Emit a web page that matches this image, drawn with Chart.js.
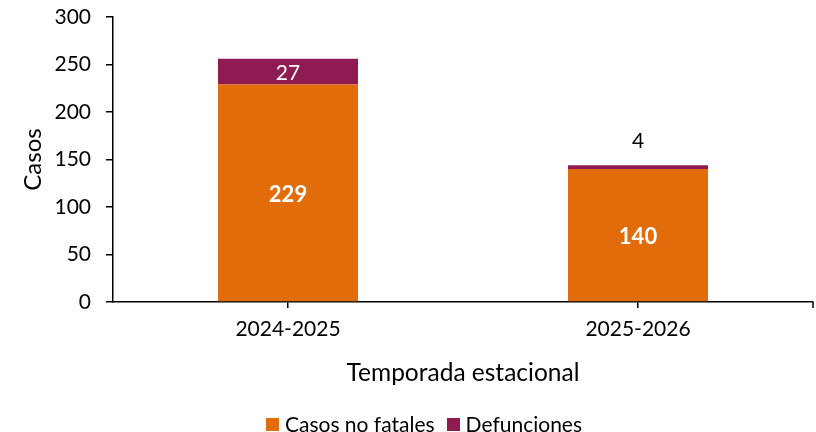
<!DOCTYPE html>
<html>
<head>
<meta charset="utf-8">
<script src="https://cdn.jsdelivr.net/npm/chart.js@4/dist/chart.umd.min.js"></script>
<style>
  html, body { margin: 0; padding: 0; background: #fff; }
  #wrap { position: relative; width: 816px; height: 432px; }
  #legend { position: absolute; left: 0; width: 848px; top: 412px; display: flex; justify-content: center; align-items: center;
            font-family: Lato, sans-serif; font-size: 21px; color: #000; line-height: 24px; }
  .item { display: flex; align-items: center; margin: 0 6px; }
  .box { width: 13px; height: 13px; margin-right: 6px; }
</style>
</head>
<body>
<div id="wrap">
  <canvas id="c" width="816" height="432"></canvas>
  <div id="legend"></div>
</div>
<script>
const categories = ['2024-2025', '2025-2026'];
const casosNoFatales = [229, 140];
const defunciones = [27, 4];
const seriesNames = ['Casos no fatales', 'Defunciones'];
const seriesColors = ['#E36C0A', '#8E1B52'];
const yTicks = [0, 50, 100, 150, 200, 250, 300];

const FONT = 'Lato, sans-serif';

const labelPlugin = {
  id: 'valueLabels',
  afterDatasetsDraw(chart) {
    const ctx = chart.ctx;
    ctx.save();
    ctx.textAlign = 'center';
    ctx.textBaseline = 'middle';
    chart.data.datasets.forEach((ds, di) => {
      const meta = chart.getDatasetMeta(di);
      meta.data.forEach((el, i) => {
        const v = ds.data[i];
        const h = Math.abs(el.base - el.y);
        if (di === 0) {
          ctx.font = 'bold 22px ' + FONT;
          ctx.fillStyle = '#fff';
          ctx.fillText(String(v), el.x, (el.y + el.base) / 2 + 2);
        } else if (h > 18) {
          ctx.font = '21px ' + FONT;
          ctx.fillStyle = '#fff';
          ctx.fillText(String(v), el.x, (el.y + el.base) / 2 + 2);
        } else {
          ctx.font = '21px ' + FONT;
          ctx.fillStyle = '#000';
          ctx.fillText(String(v), el.x, el.y - 24);
        }
      });
    });
    ctx.restore();
  },
  afterDraw(chart) {
    const ctx = chart.ctx;
    const a = chart.chartArea;
    ctx.save();
    ctx.strokeStyle = '#000';
    ctx.lineWidth = 1.5;
    ctx.beginPath();
    ctx.moveTo(a.right, a.bottom);
    ctx.lineTo(a.right, a.bottom + 6);
    ctx.stroke();
    ctx.restore();
  }
};

const chart = new Chart(document.getElementById('c'), {
  type: 'bar',
  data: {
    labels: categories,
    datasets: [
      { label: seriesNames[0], data: casosNoFatales, backgroundColor: seriesColors[0], borderWidth: 0 },
      { label: seriesNames[1], data: defunciones, backgroundColor: seriesColors[1], borderWidth: 0 }
    ]
  },
  options: {
    responsive: false,
    animation: false,
    devicePixelRatio: 1,
    layout: { padding: { top: 17, right: 3, bottom: 42, left: 0 } },
    datasets: { bar: { categoryPercentage: 0.8, barPercentage: 0.5 } },
    plugins: { legend: { display: false }, tooltip: { enabled: false } },
    scales: {
      x: {
        stacked: true,
        offset: true,
        grid: { offset: false, drawOnChartArea: false, drawTicks: true, tickLength: 6, color: '#000', lineWidth: 1.5 },
        border: { display: true, color: '#000', width: 1.5 },
        ticks: { color: '#000', font: { family: FONT, size: 21 }, padding: 9, maxRotation: 0 },
        title: { display: true, text: 'Temporada estacional', color: '#000', font: { family: FONT, size: 24.5 }, padding: { top: 0, bottom: 2 } },
        afterFit(s) { s.height = 88; s.paddingLeft = 0; s.paddingRight = 0; }
      },
      y: {
        stacked: true,
        min: 0, max: 300,
        afterBuildTicks(s) { s.ticks = yTicks.map(v => ({ value: v })); },
        grid: { drawOnChartArea: false, drawTicks: true, tickLength: 7, color: '#000', lineWidth: 1.5 },
        border: { display: true, color: '#000', width: 1.5 },
        ticks: { color: '#000', font: { family: FONT, size: 21 }, padding: 15 },
        title: { display: true, text: 'Casos', color: '#000', font: { family: FONT, size: 24 }, padding: { top: 19, bottom: 0 } },
        afterFit(s) { s.width = 113; s.paddingTop = 0; s.paddingBottom = 0; }
      }
    }
  },
  plugins: [labelPlugin]
});

const leg = document.getElementById('legend');
chart.data.datasets.forEach(ds => {
  const it = document.createElement('div');
  it.className = 'item';
  const b = document.createElement('span');
  b.className = 'box';
  b.style.background = ds.backgroundColor;
  const t = document.createElement('span');
  t.textContent = ds.label;
  it.appendChild(b); it.appendChild(t);
  leg.appendChild(it);
});
</script>
</body>
</html>
